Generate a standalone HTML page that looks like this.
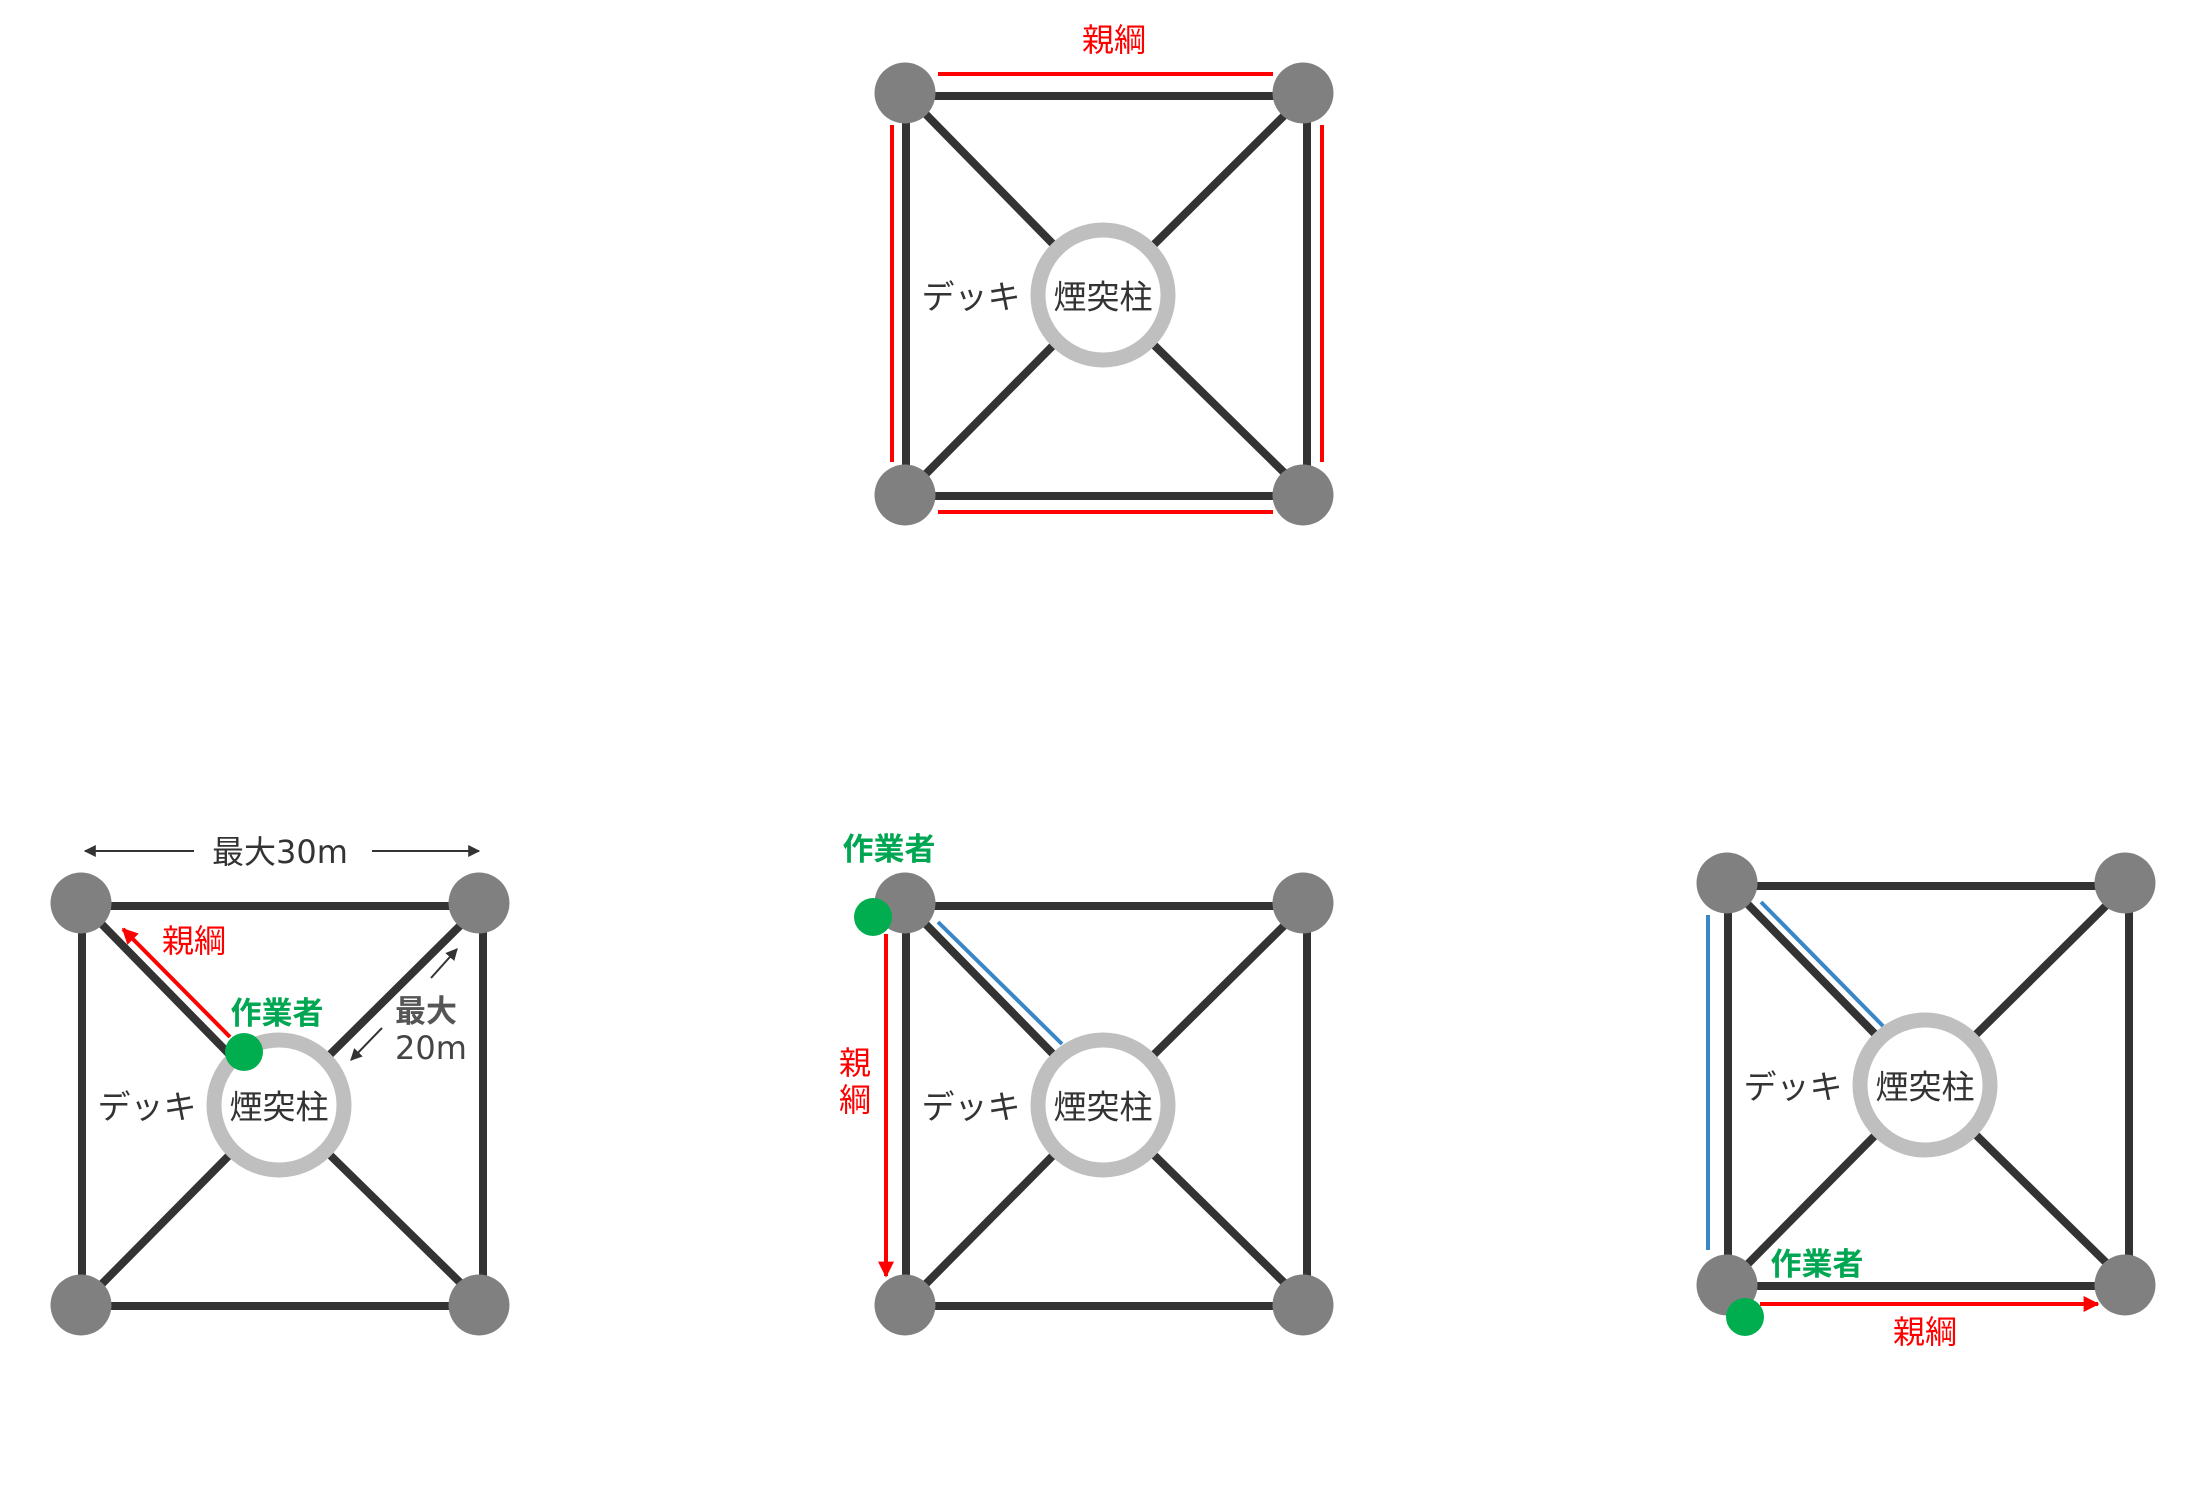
<!DOCTYPE html>
<html><head><meta charset="utf-8"><style>
html,body{margin:0;padding:0;background:#fff}
svg{display:block}
text{font-family:"DejaVu Sans","Noto Sans CJK JP",sans-serif;dominant-baseline:central;text-anchor:middle}
</style></head><body>
<svg width="2202" height="1506" viewBox="0 0 2202 1506" xmlns="http://www.w3.org/2000/svg">
<defs>
<marker id="ar" viewBox="0 0 10 10" refX="9" refY="5" markerWidth="4" markerHeight="4" orient="auto-start-reverse"><path d="M0,0 L10,5 L0,10 z" fill="#ff0000"/></marker>
<marker id="ak" viewBox="0 0 10 10" refX="9" refY="5" markerWidth="6" markerHeight="6" orient="auto-start-reverse"><path d="M0,0 L10,5 L0,10 z" fill="#333"/></marker>
<g id="d">
<line x1="0" y1="0" x2="198" y2="202" stroke="#333" stroke-width="8"/>
<line x1="402" y1="0" x2="198" y2="202" stroke="#333" stroke-width="8"/>
<line x1="0" y1="402" x2="198" y2="202" stroke="#333" stroke-width="8"/>
<line x1="402" y1="402" x2="198" y2="202" stroke="#333" stroke-width="8"/>
<rect x="1" y="3" width="401" height="400" fill="none" stroke="#333" stroke-width="8"/>
<circle cx="198" cy="202" r="58" fill="#fff"/>
<circle cx="198" cy="202" r="65" fill="none" stroke="#bfbfbf" stroke-width="15"/>
<circle cx="0" cy="0" r="30.5" fill="#808080"/>
<circle cx="398" cy="0" r="30.5" fill="#808080"/>
<circle cx="0" cy="402" r="30.5" fill="#808080"/>
<circle cx="398" cy="402" r="30.5" fill="#808080"/>
<text x="198" y="204" font-size="33" fill="#333">煙突柱</text>
<text x="66" y="204" font-size="33" fill="#333">デッキ</text>
</g>
</defs>

<!-- top -->
<use href="#d" x="905" y="93"/>
<line x1="938" y1="74" x2="1273" y2="74" stroke="#f00" stroke-width="4"/>
<line x1="938" y1="512" x2="1273" y2="512" stroke="#f00" stroke-width="4"/>
<line x1="892" y1="125" x2="892" y2="462" stroke="#f00" stroke-width="4"/>
<line x1="1322" y1="125" x2="1322" y2="462" stroke="#f00" stroke-width="4"/>
<text x="1114" y="40" font-size="32" fill="#f00">親綱</text>

<!-- bottom left -->
<use href="#d" x="81" y="903"/>
<line x1="194" y1="851" x2="85" y2="851" stroke="#333" stroke-width="2" marker-end="url(#ak)"/>
<line x1="372" y1="851" x2="479" y2="851" stroke="#333" stroke-width="2" marker-end="url(#ak)"/>
<text x="280" y="852" font-size="32" fill="#333">最大30m</text>
<line x1="230" y1="1037" x2="123" y2="929" stroke="#f00" stroke-width="4" marker-end="url(#ar)"/>
<circle cx="244" cy="1052" r="19" fill="#00ad4f"/>
<text x="194" y="941" font-size="32" fill="#f00">親綱</text>
<text x="277" y="1014" font-size="31" font-weight="bold" fill="#00a651">作業者</text>
<line x1="431" y1="978" x2="457" y2="949" stroke="#333" stroke-width="2" marker-end="url(#ak)"/>
<line x1="382" y1="1028" x2="351" y2="1060" stroke="#333" stroke-width="2" marker-end="url(#ak)"/>
<text x="426" y="1012" font-size="31" font-weight="bold" fill="#555">最大</text>
<text x="431" y="1048" font-size="32" fill="#444">20m</text>

<!-- bottom middle -->
<use href="#d" x="905" y="903"/>
<line x1="938" y1="922" x2="1062" y2="1044" stroke="#3a87c8" stroke-width="4"/>
<circle cx="873" cy="917" r="19" fill="#00ad4f"/>
<line x1="886" y1="934" x2="886" y2="1276" stroke="#f00" stroke-width="4" marker-end="url(#ar)"/>
<text x="855" y="1063" font-size="32" fill="#f00">親</text>
<text x="855" y="1100" font-size="32" fill="#f00">綱</text>
<text x="889" y="850" font-size="31" font-weight="bold" fill="#00a651">作業者</text>

<!-- bottom right -->
<use href="#d" x="1727" y="883"/>
<line x1="1708" y1="915" x2="1708" y2="1250" stroke="#3a87c8" stroke-width="4"/>
<line x1="1761" y1="902" x2="1883" y2="1026" stroke="#3a87c8" stroke-width="4"/>
<line x1="1760" y1="1304" x2="2098" y2="1304" stroke="#f00" stroke-width="4" marker-end="url(#ar)"/>
<circle cx="1745" cy="1317" r="19" fill="#00ad4f"/>
<text x="1817" y="1265" font-size="31" font-weight="bold" fill="#00a651">作業者</text>
<text x="1925" y="1332" font-size="32" fill="#f00">親綱</text>
</svg>
</body></html>
